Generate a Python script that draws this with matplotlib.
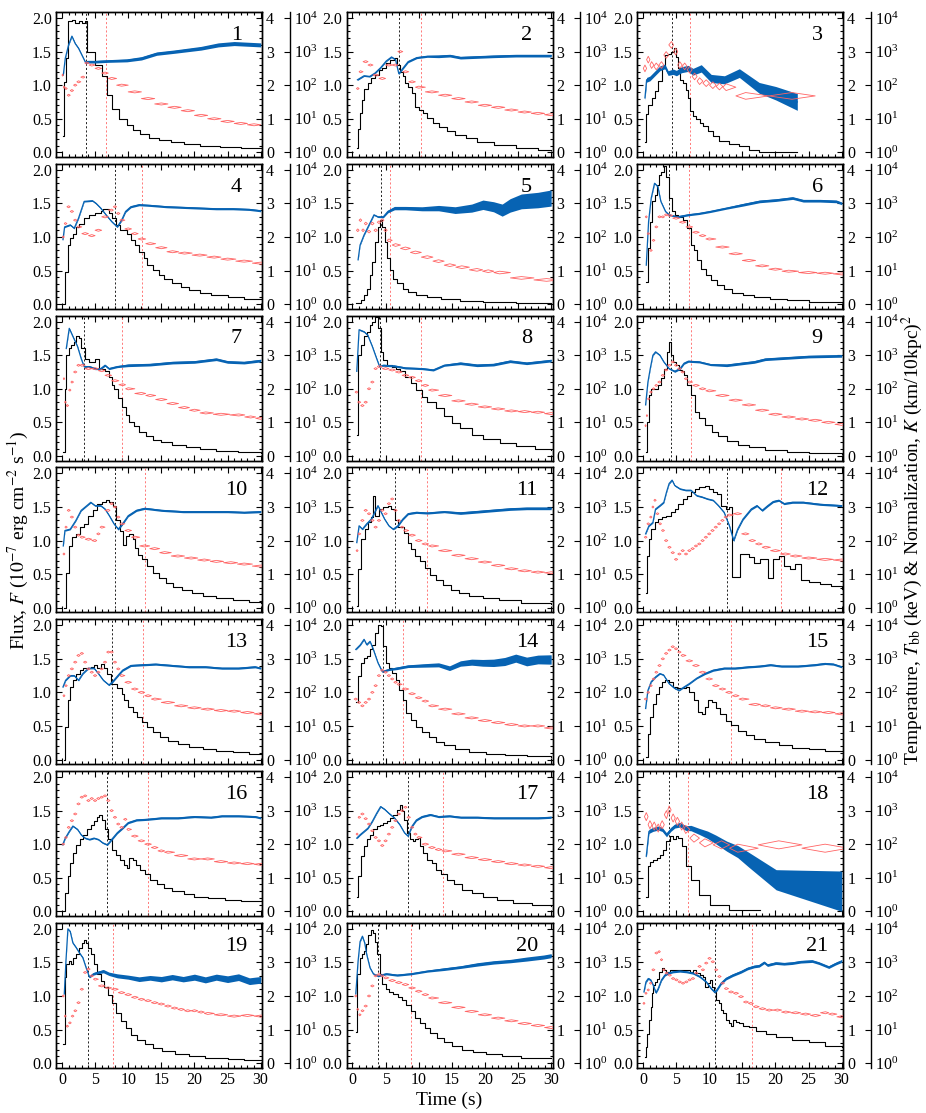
import matplotlib
matplotlib.use("Agg")
import numpy as np
import matplotlib.pyplot as plt
from matplotlib.ticker import MultipleLocator, NullLocator, FixedLocator
from matplotlib.collections import PolyCollection

plt.rcParams['font.family'] = 'serif'
plt.rcParams['font.serif'] = ['Liberation Serif', 'DejaVu Serif']
plt.rcParams['mathtext.fontset'] = 'stix'

# ---------------- data (flux in 1e-7 erg/cm2/s, T in keV, logK = log10 K) ----------------
p1_ft = [0.2, 0.35, 0.6, 0.95, 1.5, 2.0, 2.5, 3.0, 3.5, 3.75, 5.0, 6.1, 6.8, 7.5, 8.6, 9.8, 10.8, 11.8, 13.1, 14.6, 16.4, 18.4, 20.9, 23.9, 27.0, 30.0]
p1_f = [0.25, 1.05, 1.4, 1.95, 1.97, 1.93, 1.96, 1.92, 1.95, 1.5, 1.3, 1.13, 0.85, 0.65, 0.5, 0.4, 0.33, 0.28, 0.22, 0.19, 0.16, 0.13, 0.10, 0.08, 0.06, 0.06]
p1_Tt = [0.2, 0.5, 1.0, 1.5, 2.0, 2.5, 3.0, 3.6, 3.8, 5, 7, 9.8, 12, 14.3, 17, 21, 23.6, 26, 28, 30]
p1_T = [2.3, 2.8, 3.2, 3.46, 3.24, 3.1, 2.9, 2.66, 2.7, 2.7, 2.72, 2.74, 2.8, 2.94, 3.0, 3.1, 3.2, 3.24, 3.22, 3.2]
p1_Te = [0.02] * 8 + [0.04, 0.04, 0.04, 0.045, 0.05, 0.05, 0.05, 0.055, 0.06, 0.06, 0.06, 0.06]
p1_Kt = [0.1, 0.3, 0.6, 1.0, 1.5, 2.0, 2.5, 3.2, 3.7, 4.5, 5.5, 6.5, 7.5, 9, 11, 13, 15, 17, 19, 21, 23, 25, 27, 29]
p1_lK = [2.3, 1.94, 1.9, 1.7, 1.84, 2.0, 2.1, 2.24, 2.66, 2.6, 2.5, 2.36, 2.2, 2.0, 1.8, 1.6, 1.44, 1.34, 1.24, 1.1, 1.0, 0.92, 0.86, 0.82]
p1_lines = [3.7, 6.7]

p2_ft = [0.75, 0.9, 1.2, 1.5, 1.8, 2.3, 2.8, 3.4, 4.0, 4.5, 5.1, 5.7, 6.2, 6.75, 7.2, 7.6, 8.0, 8.4, 9.0, 9.5, 10.1, 10.7, 11.3, 12.2, 13.0, 14.25, 15.5, 17.2, 18.8, 21.3, 24.7, 28.0, 30.0]
p2_f = [0.06, 0.34, 0.58, 0.78, 0.95, 1.03, 1.1, 1.15, 1.23, 1.25, 1.33, 1.38, 1.4, 1.3, 1.2, 1.13, 1.03, 0.98, 0.88, 0.68, 0.63, 0.58, 0.51, 0.44, 0.38, 0.31, 0.26, 0.21, 0.16, 0.11, 0.06, 0.04, 0.03]
p2_Tt = [0.75, 1.75, 2.6, 3.4, 4.25, 5.1, 5.9, 6.5, 7.0, 7.6, 8.4, 9.7, 11.3, 13, 14.7, 16.3, 18.8, 21.3, 24.7, 30]
p2_T = [2.16, 2.28, 2.26, 2.36, 2.52, 2.72, 2.84, 2.76, 2.34, 2.5, 2.7, 2.82, 2.86, 2.86, 2.88, 2.82, 2.84, 2.86, 2.88, 2.88]
p2_Te = [0.02] * 9 + [0.03] * 4 + [0.04] * 7
p2_Kt = [0.8, 1.2, 2.0, 2.7, 3.5, 4.5, 5.5, 6.5, 7.2, 8, 9, 10, 12, 14, 16, 18, 20, 22, 24, 26, 28, 30]
p2_lK = [1.9, 2.4, 2.7, 2.6, 2.3, 2.2, 2.6, 2.6, 3.0, 2.4, 2.1, 1.94, 1.8, 1.7, 1.6, 1.5, 1.4, 1.34, 1.26, 1.2, 1.16, 1.12]
p2_lines = [7.0, 10.3]

p3_ft = [0.3, 0.45, 0.8, 1.3, 1.8, 2.3, 2.8, 3.3, 3.8, 4.3, 4.65, 4.95, 5.3, 5.65, 6.05, 6.45, 6.8, 7.15, 7.55, 8.05, 8.55, 9.05, 9.8, 10.55, 11.55, 13.05, 14.55, 16.05, 17.55, 20.55, 23.3]
p3_f = [0.15, 0.57, 0.71, 0.81, 0.91, 1.06, 1.25, 1.45, 1.47, 1.5, 1.55, 1.42, 1.25, 1.08, 1.03, 0.93, 0.81, 0.61, 0.54, 0.49, 0.44, 0.39, 0.32, 0.25, 0.17, 0.12, 0.1, 0.03, 0.0, 0.0, 0.0]
p3_Tt = [0.3, 0.55, 1.05, 1.55, 2.05, 2.55, 3.3, 3.8, 4.55, 5.05, 5.8, 6.8, 7.55, 8.8, 10.3, 12.3, 14.55, 17.55, 20.05, 23.3]
p3_T = [1.62, 2.16, 2.2, 2.3, 2.4, 2.5, 2.56, 2.36, 2.4, 2.36, 2.46, 2.5, 2.4, 2.5, 2.2, 2.16, 2.36, 1.92, 1.76, 1.5]
p3_Te = [0.07] * 8 + [0.08, 0.08, 0.09, 0.09, 0.1, 0.11, 0.12, 0.12, 0.13, 0.16, 0.2, 0.25]
p3_Kt = [0.3, 0.8, 1.3, 2.0, 2.8, 3.5, 4.3, 4.95, 5.55, 6.3, 7.05, 7.8, 8.55, 9.55, 10.55, 11.55, 12.55, 15.5, 22.5]
p3_lK = [2.5, 2.76, 2.6, 2.56, 2.6, 2.9, 3.2, 3.0, 2.6, 2.56, 2.46, 2.26, 2.12, 2.06, 2.0, 1.96, 1.94, 1.68, 1.68]
p3_lines = [4.45, 7.05]

p4_ft = [0.15, 0.4, 0.85, 1.25, 1.65, 2.1, 2.5, 3.35, 4.15, 5.0, 5.85, 6.25, 7.1, 7.5, 8.1, 8.75, 9.35, 9.85, 10.4, 11.0, 11.65, 12.35, 12.9, 13.75, 14.6, 15.4, 16.65, 17.9, 19.2, 20.8, 22.5, 25.0, 27.5, 30.0]
p4_f = [0.0, 0.48, 0.88, 0.98, 1.05, 1.15, 1.2, 1.28, 1.33, 1.35, 1.38, 1.42, 1.35, 1.28, 1.18, 1.1, 1.1, 1.05, 0.95, 0.88, 0.78, 0.68, 0.58, 0.51, 0.43, 0.38, 0.31, 0.26, 0.21, 0.17, 0.13, 0.11, 0.08, 0.07]
p4_Tt = [0.15, 0.4, 1.25, 1.85, 2.5, 3.35, 4.6, 5.15, 5.85, 6.65, 7.5, 8.35, 9.0, 9.6, 10.4, 11.65, 13.3, 15.8, 18.3, 20.8, 23.3, 25.8, 28.3, 30]
p4_T = [1.92, 2.3, 2.36, 2.26, 2.56, 3.06, 3.08, 3.0, 2.86, 2.66, 2.46, 2.3, 2.5, 2.76, 2.9, 2.96, 2.94, 2.9, 2.88, 2.86, 2.84, 2.84, 2.82, 2.78]
p4_Te = [0.02] * 12 + [0.03] * 12
p4_Kt = [0.2, 0.5, 1.0, 1.5, 2.0, 2.5, 3.5, 4.5, 5.5, 6.5, 7.5, 8.0, 8.5, 9.0, 10, 11, 12, 13.3, 15, 16.7, 18.5, 20.8, 23, 25, 27.5, 30]
p4_lK = [2.0, 2.4, 2.9, 2.76, 2.5, 2.3, 2.1, 2.04, 2.2, 2.6, 2.8, 2.9, 2.7, 2.5, 2.24, 2.1, 1.94, 1.8, 1.68, 1.56, 1.52, 1.46, 1.4, 1.34, 1.28, 1.22]
p4_lines = [8.0, 12.1]

p5_ft = [0.5, 1.35, 1.75, 2.15, 2.6, 3.0, 3.4, 3.85, 4.1, 4.4, 4.85, 5.25, 5.65, 6.1, 6.75, 7.6, 8.4, 9.65, 11.3, 13.4, 16.3, 19.7, 24.7, 30.0]
p5_f = [0.01, 0.06, 0.13, 0.23, 0.43, 0.63, 0.93, 1.15, 1.25, 1.15, 0.93, 0.68, 0.51, 0.38, 0.31, 0.23, 0.18, 0.13, 0.1, 0.07, 0.05, 0.035, 0.02, 0.01]
p5_Tt = [0.85, 1.15, 1.75, 2.6, 3.25, 3.85, 4.65, 5.35, 6.35, 8.0, 10.5, 13.0, 15.5, 18.0, 19.7, 21.3, 22.6, 23.8, 25.5, 28.0, 30.0]
p5_T = [1.32, 1.76, 2.06, 2.4, 2.66, 2.6, 2.6, 2.76, 2.86, 2.86, 2.84, 2.86, 2.8, 2.86, 2.96, 2.9, 2.8, 2.94, 3.06, 3.1, 3.16]
p5_Te = [0.02] * 6 + [0.03, 0.04, 0.05, 0.05, 0.06, 0.08, 0.1, 0.12, 0.14, 0.15, 0.18, 0.2, 0.22, 0.23, 0.24]
p5_Kt = [0.8, 1.2, 1.6, 2.0, 2.5, 3.0, 3.5, 4.0, 4.5, 5.0, 5.5, 6.5, 8.0, 9.5, 11.3, 13, 14.7, 16.5, 18.8, 20.5, 22.2, 25.5, 29.3]
p5_lK = [2.2, 2.5, 2.2, 2.4, 2.16, 2.4, 2.2, 2.44, 2.5, 2.2, 1.9, 1.76, 1.66, 1.54, 1.4, 1.28, 1.16, 1.1, 1.02, 0.98, 0.94, 0.78, 0.72]
p5_lines = [4.25, 5.65]

p6_ft = [0.5, 0.75, 1.05, 1.4, 1.75, 2.05, 2.4, 2.7, 3.15, 3.55, 3.95, 4.4, 4.8, 5.35, 6.0, 6.7, 7.25, 7.7, 8.1, 8.75, 9.5, 10.2, 11.15, 12.2, 13.5, 15.1, 16.8, 19.25, 21.7, 25.0, 30.0]
p6_f = [0.33, 0.83, 1.23, 1.53, 1.63, 1.78, 1.93, 1.97, 2.05, 1.9, 1.58, 1.38, 1.33, 1.3, 1.25, 1.13, 0.88, 0.8, 0.66, 0.53, 0.43, 0.36, 0.28, 0.22, 0.17, 0.13, 0.11, 0.075, 0.055, 0.035, 0.025]
p6_Tt = [0.5, 0.85, 1.25, 1.75, 2.25, 2.7, 3.4, 3.95, 5.2, 6.85, 8.5, 10.2, 12.65, 15.1, 17.6, 20.1, 22.6, 24.2, 26.7, 29.2, 30]
p6_T = [1.16, 2.46, 3.16, 3.6, 3.5, 3.06, 2.76, 2.66, 2.6, 2.66, 2.7, 2.76, 2.86, 2.96, 3.06, 3.1, 3.16, 3.08, 3.08, 3.06, 3.0]
p6_Te = [0.02] * 8 + [0.03] * 5 + [0.04] * 8
p6_Kt = [0.5, 0.8, 1.2, 1.6, 2.0, 2.5, 3.0, 3.5, 4.0, 5.0, 6.0, 7.0, 8.0, 9.0, 10.0, 12.0, 14.0, 16.0, 18.0, 20.0, 22.0, 25.0, 27.5, 30.0]
p6_lK = [2.6, 2.1, 1.6, 1.9, 2.3, 2.6, 2.6, 2.66, 2.64, 2.56, 2.44, 2.3, 2.14, 2.04, 1.94, 1.7, 1.5, 1.3, 1.14, 1.04, 0.98, 0.94, 0.92, 0.9]
p6_lines = [3.95, 7.0]

p7_ft = [0.15, 0.4, 0.65, 1.0, 1.35, 1.85, 2.15, 2.5, 2.9, 3.5, 4.15, 5.0, 5.6, 6.0, 6.5, 7.1, 7.5, 7.9, 8.5, 9.0, 9.6, 10.15, 10.85, 11.65, 12.65, 13.75, 15.0, 16.65, 18.75, 20.8, 23.3, 26.65, 30.0]
p7_f = [0.06, 1.0, 1.5, 1.6, 1.65, 1.7, 1.78, 1.75, 1.6, 1.45, 1.4, 1.44, 1.3, 1.3, 1.26, 1.18, 1.06, 1.0, 0.86, 0.73, 0.61, 0.51, 0.44, 0.36, 0.3, 0.24, 0.2, 0.16, 0.13, 0.1, 0.08, 0.065, 0.05]
p7_Tt = [0.65, 1.1, 1.65, 2.35, 2.9, 3.35, 4.15, 5.0, 5.85, 6.5, 7.1, 8.35, 10, 13.3, 16.7, 20, 23.3, 25, 27.5, 30]
p7_T = [3.2, 3.8, 3.56, 3.26, 2.9, 2.66, 2.66, 2.6, 2.6, 2.7, 2.6, 2.66, 2.7, 2.72, 2.78, 2.8, 2.88, 2.8, 2.78, 2.84]
p7_Te = [0.02] * 6 + [0.03] * 6 + [0.04] * 8
p7_Kt = [0.3, 0.5, 0.8, 1.2, 1.5, 2.0, 2.5, 3.0, 4.0, 5.0, 6.0, 7.0, 8.0, 9.2, 10, 12, 13.3, 15, 16.7, 18.5, 20, 21.7, 24, 26.7, 28.5, 30]
p7_lK = [2.3, 1.6, 1.5, 1.96, 2.2, 2.5, 2.7, 2.7, 2.6, 2.6, 2.54, 2.4, 2.24, 2.12, 2.0, 1.86, 1.8, 1.68, 1.56, 1.44, 1.36, 1.28, 1.24, 1.22, 1.16, 1.12]
p7_lines = [3.35, 9.0]

p8_ft = [0.65, 0.9, 1.35, 1.75, 2.15, 2.6, 3.0, 3.4, 3.85, 4.25, 4.65, 5.25, 5.9, 6.5, 7.15, 8.0, 8.85, 9.65, 10.5, 11.3, 12.6, 13.85, 15.1, 16.3, 18.0, 19.7, 22.2, 24.7, 27.6, 30.0]
p8_f = [0.31, 1.5, 1.65, 1.78, 1.85, 1.95, 2.0, 2.07, 1.9, 1.55, 1.43, 1.35, 1.33, 1.3, 1.26, 1.18, 1.08, 0.98, 0.88, 0.81, 0.71, 0.59, 0.49, 0.41, 0.31, 0.25, 0.19, 0.15, 0.11, 0.09]
p8_Tt = [0.65, 1.0, 1.75, 2.3, 3.0, 3.65, 4.1, 4.65, 6.3, 8.0, 10.5, 12.2, 13.85, 16.3, 18.8, 21.3, 23.8, 26.3, 30]
p8_T = [2.52, 3.76, 3.7, 3.6, 3.26, 2.9, 2.66, 2.7, 2.68, 2.62, 2.6, 2.56, 2.7, 2.76, 2.7, 2.72, 2.82, 2.76, 2.84]
p8_Te = [0.02] * 7 + [0.03] * 6 + [0.04] * 6
p8_Kt = [0.6, 1.0, 1.5, 2.0, 2.5, 3.0, 3.5, 4.0, 5.0, 6.0, 7.0, 8.0, 9.0, 10.0, 11.0, 12.0, 14.0, 16.0, 18.0, 20.0, 22.0, 24.0, 26.0, 28.0, 30.0]
p8_lK = [1.9, 1.6, 1.5, 1.6, 2.0, 2.2, 2.6, 2.66, 2.6, 2.56, 2.5, 2.4, 2.34, 2.24, 2.1, 1.96, 1.8, 1.64, 1.54, 1.46, 1.4, 1.34, 1.32, 1.3, 1.26]
p8_lines = [4.1, 10.3]

p9_ft = [0.4, 0.65, 0.9, 1.25, 1.75, 2.25, 2.7, 3.2, 3.65, 3.95, 4.3, 4.6, 5.05, 5.45, 5.85, 6.2, 6.7, 7.25, 7.85, 8.5, 9.35, 10.35, 11.4, 12.65, 14.3, 15.95, 18.4, 21.75, 25.0, 30.0]
p9_f = [0.06, 0.51, 0.91, 1.0, 1.0, 1.06, 1.16, 1.3, 1.55, 1.7, 1.5, 1.4, 1.35, 1.28, 1.26, 1.21, 1.06, 0.91, 0.66, 0.56, 0.46, 0.36, 0.29, 0.22, 0.16, 0.13, 0.09, 0.065, 0.05, 0.035]
p9_Tt = [0.4, 0.75, 1.1, 1.5, 1.9, 2.55, 3.15, 3.95, 4.8, 5.6, 6.2, 6.85, 8.5, 10.2, 12.65, 15.1, 16.8, 18.45, 21.75, 25, 30]
p9_T = [1.52, 2.2, 2.6, 3.0, 3.1, 3.0, 2.8, 2.6, 2.52, 2.6, 2.76, 2.82, 2.8, 2.72, 2.7, 2.76, 2.8, 2.88, 2.92, 2.96, 2.98]
p9_Te = [0.02] * 8 + [0.03] * 6 + [0.04] * 7
p9_Kt = [0.4, 0.6, 0.8, 1.2, 1.6, 2.0, 2.5, 3.0, 3.5, 4.0, 4.5, 5.0, 5.5, 6.0, 6.5, 7.0, 8.0, 9.0, 10.0, 12.0, 14.0, 16.0, 18.0, 20.0, 22.0, 24.0, 26.0, 28.0, 30.0]
p9_lK = [0.9, 1.2, 1.7, 1.9, 2.0, 2.1, 2.2, 2.4, 2.56, 2.7, 2.8, 2.7, 2.6, 2.5, 2.3, 2.2, 2.1, 2.0, 1.94, 1.8, 1.66, 1.52, 1.36, 1.24, 1.16, 1.1, 1.06, 1.0, 0.94]
p9_lines = [4.2, 7.3]

p10_ft = [0.25, 0.6, 1.0, 1.5, 2.1, 2.65, 3.35, 4.0, 4.65, 5.35, 6.0, 6.65, 7.15, 7.65, 8.1, 8.75, 9.15, 9.6, 10.15, 10.65, 11.0, 11.5, 12.1, 12.9, 13.75, 14.6, 15.65, 16.8, 18.15, 19.6, 21.25, 23.3, 25.8, 28.3, 30.0]
p10_f = [0.0, 0.52, 0.92, 1.05, 1.1, 1.2, 1.25, 1.37, 1.45, 1.55, 1.58, 1.6, 1.57, 1.52, 1.3, 1.15, 0.94, 1.07, 1.1, 1.02, 0.89, 0.79, 0.72, 0.62, 0.52, 0.44, 0.37, 0.31, 0.26, 0.22, 0.18, 0.14, 0.12, 0.09, 0.075]
p10_Tt = [0.2, 0.45, 1.25, 2.1, 2.9, 3.75, 4.35, 5.0, 5.85, 6.5, 7.15, 7.85, 8.5, 9.15, 10.0, 11.25, 12.5, 15, 18.3, 21.7, 25, 27.5, 30]
p10_T = [1.84, 2.3, 2.34, 2.6, 2.9, 3.04, 3.14, 3.04, 3.04, 2.94, 2.74, 2.5, 2.34, 2.5, 2.74, 2.9, 2.96, 2.9, 2.86, 2.86, 2.86, 2.84, 2.86]
p10_Te = [0.02] * 12 + [0.03] * 11
p10_Kt = [0.3, 0.6, 1.0, 1.5, 2.0, 2.5, 3.0, 4.0, 5.0, 5.5, 6.0, 7.0, 7.5, 8.0, 8.5, 9.0, 10.0, 11.0, 12.5, 14.0, 15.5, 17.5, 19.5, 21.5, 23.3, 25.5, 27.5, 30.0]
p10_lK = [1.6, 2.4, 2.9, 2.7, 2.4, 2.16, 2.1, 2.04, 2.0, 2.2, 2.4, 2.9, 3.1, 3.0, 2.7, 2.5, 2.3, 2.1, 1.84, 1.76, 1.64, 1.54, 1.48, 1.42, 1.38, 1.34, 1.3, 1.24]
p10_lines = [8.0, 12.5]

p11_ft = [0.65, 0.9, 1.35, 1.85, 2.35, 2.85, 3.15, 3.4, 4.0, 4.65, 5.35, 5.85, 6.35, 6.85, 7.35, 7.85, 8.35, 8.85, 9.5, 10.15, 10.9, 11.75, 12.6, 13.65, 14.85, 16.15, 17.6, 19.65, 22.15, 25.5, 30.0]
p11_f = [0.02, 0.57, 1.02, 1.17, 1.27, 1.35, 1.67, 1.37, 1.47, 1.5, 1.52, 1.47, 1.3, 1.2, 1.2, 1.12, 0.97, 0.87, 0.77, 0.69, 0.59, 0.49, 0.42, 0.34, 0.27, 0.22, 0.18, 0.14, 0.11, 0.075, 0.055]
p11_Tt = [0.65, 1.0, 1.5, 2.15, 2.85, 3.35, 3.85, 4.35, 4.85, 5.5, 6.15, 6.85, 7.6, 8.4, 9.65, 11.3, 13.85, 16.3, 18.85, 21.3, 23.8, 26.3, 30]
p11_T = [1.94, 2.44, 2.34, 2.5, 2.64, 2.84, 3.04, 2.84, 2.64, 2.44, 2.34, 2.44, 2.64, 2.8, 2.84, 2.82, 2.86, 2.82, 2.86, 2.9, 2.94, 2.96, 2.96]
p11_Te = [0.02] * 11 + [0.03] * 6 + [0.04] * 6
p11_Kt = [0.7, 1.0, 1.5, 2.0, 2.5, 3.0, 3.5, 4.0, 4.5, 5.0, 5.5, 6.0, 6.5, 7.0, 7.5, 8.0, 9.0, 10.0, 11.0, 12.0, 14.0, 16.0, 18.0, 20.0, 22.0, 24.0, 26.0, 28.0, 30.0]
p11_lK = [1.7, 2.2, 2.6, 2.9, 2.8, 2.6, 2.4, 2.6, 2.9, 2.8, 3.1, 3.24, 2.9, 2.6, 2.4, 2.3, 2.16, 2.0, 1.9, 1.84, 1.7, 1.56, 1.46, 1.36, 1.26, 1.16, 1.1, 1.06, 1.04]
p11_lines = [6.35, 11.2]

p12_ft = [0.4, 0.65, 0.9, 1.25, 1.75, 2.3, 2.9, 3.55, 4.2, 4.8, 5.35, 6.05, 6.7, 7.25, 7.85, 8.5, 9.35, 10.0, 10.6, 11.15, 11.8, 12.5, 13.05, 13.5, 14.7, 15.95, 16.8, 17.6, 18.85, 19.65, 20.5, 21.3, 22.15, 23.0, 23.8, 25.0, 26.7, 28.35, 30.0]
p12_f = [0.22, 0.77, 1.02, 1.17, 1.27, 1.32, 1.35, 1.37, 1.42, 1.47, 1.55, 1.62, 1.67, 1.72, 1.77, 1.8, 1.82, 1.77, 1.72, 1.7, 1.52, 1.47, 1.5, 0.45, 0.8, 0.75, 0.67, 0.72, 0.44, 0.72, 0.77, 0.62, 0.58, 0.65, 0.42, 0.39, 0.36, 0.32, 0.28]
p12_Tt = [0.4, 0.9, 1.5, 1.9, 2.55, 3.15, 3.55, 3.95, 4.4, 4.8, 5.6, 6.45, 7.25, 8.1, 8.9, 9.75, 10.6, 11.4, 12.25, 13.05, 13.7, 14.3, 15.1, 16.35, 17.2, 18.0, 18.85, 19.65, 20.5, 21.3, 22.55, 24.2, 26.7, 30.0]
p12_T = [2.2, 2.44, 2.54, 2.94, 3.04, 3.14, 3.44, 3.7, 3.8, 3.64, 3.54, 3.5, 3.5, 3.34, 3.3, 3.24, 3.2, 3.04, 2.84, 2.44, 2.0, 2.34, 2.64, 2.94, 3.04, 2.9, 3.04, 3.16, 3.2, 3.1, 3.14, 3.14, 3.08, 3.04]
p12_Te = [0.02] * 20 + [0.03] * 14
p12_Kt = [0.4, 0.8, 1.2, 1.5, 1.8, 2.2, 2.6, 3.0, 3.5, 4.0, 4.5, 5.0, 5.5, 6.0, 6.5, 7.0, 7.5, 8.0, 8.5, 9.0, 9.5, 10.0, 10.5, 11.0, 11.5, 12.0, 12.5, 13.0, 14.3, 15.5, 16.5, 17.5, 18.5, 20.0, 21.5, 23.0, 25.0, 27.5, 30.0]
p12_lK = [2.1, 2.5, 2.7, 3.0, 3.2, 2.8, 2.5, 2.3, 2.0, 1.8, 1.64, 1.44, 1.6, 1.7, 1.6, 1.7, 1.76, 1.84, 1.9, 2.0, 2.1, 2.2, 2.3, 2.4, 2.5, 2.6, 2.7, 2.76, 2.8, 2.2, 2.0, 1.9, 1.8, 1.7, 1.6, 1.54, 1.48, 1.44, 1.42]
p12_lines = [12.65, 20.9]

p13_ft = [0.25, 0.5, 0.85, 1.25, 1.65, 2.15, 2.65, 3.15, 3.75, 4.35, 4.85, 5.35, 5.85, 6.35, 6.85, 7.35, 7.9, 8.35, 9.0, 9.4, 10.0, 10.65, 11.35, 12.1, 12.9, 13.75, 14.85, 16.0, 17.5, 19.15, 21.25, 23.3, 25.8, 28.3, 30.0]
p13_f = [0.0, 0.48, 0.88, 1.08, 1.18, 1.28, 1.33, 1.36, 1.36, 1.38, 1.41, 1.36, 1.43, 1.36, 1.28, 1.13, 1.13, 1.06, 0.98, 0.88, 0.78, 0.71, 0.63, 0.56, 0.48, 0.41, 0.34, 0.28, 0.23, 0.19, 0.16, 0.13, 0.11, 0.085, 0.075]
p13_Tt = [0.15, 0.55, 1.25, 1.85, 2.5, 3.15, 4.0, 4.85, 5.5, 6.25, 7.1, 7.65, 8.35, 9.15, 10.4, 12.1, 14.15, 16.65, 19.15, 21.65, 24.15, 26.65, 29.15, 30]
p13_T = [2.16, 2.36, 2.5, 2.5, 2.36, 2.56, 2.72, 2.72, 2.56, 2.36, 2.22, 2.32, 2.48, 2.66, 2.8, 2.82, 2.84, 2.8, 2.76, 2.76, 2.72, 2.72, 2.76, 2.72]
p13_Te = [0.02] * 11 + [0.03] * 13
p13_Kt = [0.3, 0.6, 1.0, 1.5, 2.0, 2.5, 3.0, 3.5, 4.0, 4.5, 5.0, 5.5, 6.0, 6.5, 7.0, 7.5, 8.0, 8.5, 9.0, 10.0, 11.0, 12.0, 13.0, 14.0, 16.0, 18.0, 20.0, 22.0, 24.0, 26.0, 28.0, 30.0]
p13_lK = [1.9, 2.2, 2.5, 2.7, 2.9, 3.1, 3.16, 2.9, 2.7, 2.6, 2.5, 2.6, 2.7, 2.9, 3.2, 3.2, 2.9, 2.7, 2.5, 2.3, 2.1, 2.0, 1.9, 1.8, 1.7, 1.6, 1.54, 1.5, 1.46, 1.44, 1.4, 1.36]
p13_lines = [7.5, 12.3]

p14_ft = [0.5, 0.9, 1.35, 1.75, 2.15, 2.65, 3.0, 3.4, 3.85, 4.25, 4.65, 5.1, 5.5, 6.0, 6.5, 7.0, 7.6, 8.15, 8.85, 9.65, 10.5, 11.5, 12.6, 13.85, 15.5, 17.6, 20.1, 23.0, 26.3, 30.0]
p14_f = [0.86, 1.24, 1.44, 1.51, 1.54, 1.64, 1.71, 1.89, 2.01, 1.99, 1.69, 1.44, 1.36, 1.29, 1.19, 1.04, 0.89, 0.69, 0.59, 0.49, 0.41, 0.34, 0.26, 0.21, 0.16, 0.11, 0.085, 0.06, 0.045, 0.035]
p14_Tt = [0.5, 1.2, 1.75, 2.15, 2.65, 3.15, 3.85, 4.5, 5.5, 6.75, 8.4, 10.5, 13.0, 14.65, 16.3, 18.0, 19.65, 21.3, 23.0, 24.65, 26.3, 28.0, 30.0]
p14_T = [3.28, 3.42, 3.58, 3.42, 3.52, 3.28, 2.88, 2.62, 2.68, 2.72, 2.78, 2.8, 2.82, 2.72, 2.86, 2.9, 2.88, 2.88, 2.92, 3.02, 2.92, 2.98, 2.98]
p14_Te = [0.02] * 7 + [0.03, 0.03, 0.04, 0.04, 0.05, 0.06, 0.07, 0.08, 0.09, 0.1, 0.11, 0.12, 0.12, 0.13, 0.13, 0.14]
p14_Kt = [0.5, 1.0, 1.5, 2.0, 2.5, 3.0, 3.5, 4.0, 4.5, 5.0, 5.5, 6.0, 6.5, 7.0, 8.0, 9.0, 10.0, 11.0, 12.0, 14.0, 16.0, 18.0, 20.0, 22.0, 24.0, 26.0, 28.0, 30.0]
p14_lK = [1.8, 1.7, 1.6, 1.7, 1.8, 2.0, 2.2, 2.5, 2.66, 2.6, 2.5, 2.4, 2.3, 2.24, 2.1, 1.96, 1.84, 1.74, 1.6, 1.5, 1.36, 1.24, 1.16, 1.1, 1.04, 1.0, 1.0, 0.94]
p14_lines = [4.6, 7.6]

p15_ft = [0.4, 0.75, 1.05, 1.5, 1.9, 2.4, 2.9, 3.4, 3.95, 4.55, 5.2, 5.85, 6.45, 7.0, 7.7, 8.25, 8.85, 9.35, 9.85, 10.35, 11.0, 11.65, 12.5, 13.3, 14.3, 15.55, 16.8, 18.45, 20.5, 22.55, 25.0, 27.5, 30.0]
p15_f = [0.03, 0.38, 0.63, 0.83, 0.98, 1.08, 1.16, 1.18, 1.16, 1.08, 1.06, 1.06, 1.08, 1.01, 0.88, 0.71, 0.68, 0.78, 0.88, 0.86, 0.76, 0.68, 0.58, 0.51, 0.43, 0.36, 0.31, 0.26, 0.21, 0.17, 0.15, 0.13, 0.125]
p15_Tt = [0.4, 0.75, 1.25, 1.9, 2.55, 3.1, 3.95, 4.8, 5.45, 6.2, 7.0, 8.1, 9.35, 10.6, 12.25, 13.9, 16.0, 17.6, 19.25, 20.9, 23.4, 25.9, 27.5, 28.75, 30.0]
p15_T = [1.52, 2.06, 2.32, 2.46, 2.56, 2.52, 2.26, 2.12, 2.06, 2.16, 2.26, 2.42, 2.56, 2.66, 2.72, 2.72, 2.76, 2.78, 2.82, 2.78, 2.78, 2.82, 2.86, 2.84, 2.76]
p15_Te = [0.02] * 12 + [0.03] * 13
p15_Kt = [0.4, 0.8, 1.2, 1.6, 2.0, 2.5, 3.0, 3.5, 4.0, 4.5, 5.0, 5.5, 6.0, 7.0, 8.0, 9.0, 10.0, 11.0, 12.0, 13.0, 14.0, 15.0, 17.0, 18.5, 20.0, 22.0, 24.0, 26.0, 28.0, 30.0]
p15_lK = [1.8, 2.0, 2.2, 2.4, 2.6, 2.8, 3.0, 3.16, 3.26, 3.36, 3.3, 3.2, 3.1, 2.94, 2.8, 2.6, 2.4, 2.2, 2.1, 2.0, 1.9, 1.8, 1.64, 1.6, 1.54, 1.5, 1.44, 1.42, 1.4, 1.36]
p15_lines = [5.35, 13.3]

p16_ft = [0.15, 0.5, 0.85, 1.25, 1.65, 2.15, 2.65, 3.15, 3.75, 4.35, 4.85, 5.35, 5.65, 6.0, 6.5, 7.0, 7.5, 8.15, 8.75, 9.35, 9.75, 10.15, 10.65, 11.15, 11.85, 12.5, 13.35, 14.35, 15.4, 16.65, 18.35, 20.0, 22.1, 24.6, 27.1, 30.0]
p16_f = [0.0, 0.27, 0.52, 0.72, 0.87, 0.99, 1.07, 1.14, 1.22, 1.29, 1.34, 1.41, 1.44, 1.36, 1.22, 1.07, 0.92, 0.84, 0.77, 0.69, 0.65, 0.79, 0.77, 0.69, 0.62, 0.55, 0.47, 0.4, 0.35, 0.3, 0.26, 0.22, 0.2, 0.17, 0.16, 0.15]
p16_Tt = [0.1, 0.5, 1.1, 1.65, 2.35, 2.9, 3.5, 4.15, 4.85, 5.5, 6.15, 6.85, 7.5, 8.35, 9.15, 10.0, 11.25, 12.9, 15.0, 17.5, 20.0, 22.5, 24.15, 26.65, 29.15, 30.0]
p16_T = [1.98, 2.18, 2.38, 2.54, 2.44, 2.28, 2.18, 2.14, 2.18, 2.14, 2.04, 1.98, 2.14, 2.34, 2.48, 2.64, 2.72, 2.74, 2.78, 2.78, 2.82, 2.8, 2.84, 2.84, 2.82, 2.78]
p16_Te = [0.02] * 12 + [0.03] * 14
p16_Kt = [0.2, 0.6, 1.0, 1.5, 2.0, 2.5, 3.0, 3.5, 4.0, 4.5, 5.0, 5.5, 6.0, 6.5, 7.0, 7.5, 8.0, 8.5, 9.0, 9.6, 10.0, 11.0, 12.0, 13.0, 14.0, 15.0, 16.0, 18.0, 20.0, 22.0, 24.0, 26.0, 28.0, 30.0]
p16_lK = [2.0, 2.2, 2.5, 2.7, 2.9, 3.2, 3.4, 3.44, 3.3, 3.36, 3.3, 3.36, 3.4, 3.44, 3.3, 3.0, 2.8, 2.6, 2.5, 2.74, 2.44, 2.24, 2.1, 2.0, 1.9, 1.8, 1.76, 1.66, 1.56, 1.56, 1.48, 1.44, 1.42, 1.4]
p16_lines = [6.75, 13.0]

p17_ft = [0.65, 0.9, 1.35, 1.75, 2.15, 2.65, 3.15, 3.65, 4.15, 4.65, 5.15, 5.65, 6.15, 6.65, 7.15, 7.5, 7.85, 8.25, 8.65, 9.1, 9.5, 9.85, 10.15, 10.65, 11.3, 12.0, 12.65, 13.4, 14.25, 15.35, 16.5, 18.0, 19.65, 21.75, 24.25, 27.15, 30.0]
p17_f = [0.22, 0.52, 0.82, 0.97, 1.07, 1.14, 1.22, 1.27, 1.29, 1.32, 1.34, 1.39, 1.44, 1.51, 1.59, 1.49, 1.36, 1.17, 1.07, 1.04, 1.07, 1.09, 0.97, 0.87, 0.77, 0.72, 0.62, 0.55, 0.47, 0.4, 0.32, 0.27, 0.21, 0.17, 0.13, 0.1, 0.075]
p17_Tt = [0.65, 1.15, 1.75, 2.35, 3.0, 3.65, 4.25, 4.85, 5.5, 6.35, 7.15, 7.85, 8.4, 9.0, 9.65, 10.5, 11.75, 13.0, 14.65, 16.35, 18.85, 21.35, 24.65, 28.0, 30.0]
p17_T = [2.18, 2.28, 2.38, 2.48, 2.68, 2.92, 3.12, 3.04, 2.92, 2.78, 2.58, 2.34, 2.24, 2.54, 2.72, 2.82, 2.88, 2.82, 2.84, 2.8, 2.8, 2.78, 2.78, 2.78, 2.8]
p17_Te = [0.02] * 13 + [0.03] * 12
p17_Kt = [0.7, 1.0, 1.5, 2.0, 2.5, 3.0, 3.5, 4.0, 4.5, 5.0, 5.5, 6.0, 6.5, 7.0, 7.5, 8.0, 8.5, 9.0, 9.5, 10.0, 11.0, 12.0, 13.0, 14.0, 16.0, 18.0, 20.0, 22.0, 24.0, 26.0, 28.0, 30.0]
p17_lK = [2.3, 2.8, 2.9, 2.76, 2.6, 2.4, 2.2, 2.1, 1.96, 2.1, 2.3, 2.5, 2.7, 2.9, 3.0, 3.1, 2.8, 2.5, 2.3, 2.2, 2.0, 1.9, 1.84, 1.8, 1.7, 1.6, 1.54, 1.48, 1.42, 1.38, 1.34, 1.3]
p17_lines = [8.4, 13.65]

p18_ft = [0.5, 0.75, 1.05, 1.55, 2.05, 2.55, 3.05, 3.55, 4.05, 4.55, 4.95, 5.35, 5.85, 6.45, 7.25, 8.5, 10.15, 13.05, 17.6]
p18_f = [0.22, 0.67, 0.74, 0.77, 0.79, 0.84, 0.92, 1.04, 1.12, 1.07, 1.12, 1.09, 0.97, 0.67, 0.47, 0.25, 0.1, 0.025, 0.025]
p18_Tt = [0.5, 0.9, 1.5, 2.3, 2.9, 3.55, 4.2, 4.8, 5.6, 6.45, 7.25, 8.5, 9.75, 11.0, 12.65, 14.3, 15.95, 20.1, 30.0]
p18_T = [1.64, 2.38, 2.44, 2.48, 2.44, 2.28, 2.44, 2.54, 2.58, 2.48, 2.48, 2.38, 2.28, 2.14, 1.94, 1.78, 1.54, 0.94, 0.6]
p18_Te = [0.06, 0.06, 0.06, 0.06, 0.06, 0.06, 0.06, 0.06, 0.07, 0.07, 0.08, 0.09, 0.11, 0.13, 0.15, 0.18, 0.22, 0.3, 0.6]
p18_Kt = [0.5, 1.05, 1.7, 2.3, 2.9, 3.55, 3.95, 4.55, 5.2, 5.85, 6.45, 7.7, 9.35, 11.85, 14.3, 20.5, 27.5]
p18_lK = [2.82, 2.58, 2.54, 2.48, 2.58, 2.88, 3.02, 2.78, 2.68, 2.54, 2.44, 2.18, 2.04, 1.98, 1.88, 1.98, 1.88]
p18_lines = [3.95, 6.85]

p19_ft = [0.15, 0.4, 0.65, 1.0, 1.35, 1.65, 2.1, 2.5, 3.0, 3.35, 3.65, 4.0, 4.4, 4.85, 5.35, 5.85, 6.35, 6.9, 7.5, 8.15, 8.85, 9.6, 10.4, 11.35, 12.5, 13.75, 15.15, 17.1, 19.15, 21.65, 25.0, 27.5, 30.0]
p19_f = [0.28, 1.28, 1.47, 1.52, 1.47, 1.57, 1.62, 1.72, 1.79, 1.84, 1.79, 1.72, 1.62, 1.47, 1.33, 1.23, 1.13, 1.01, 0.89, 0.74, 0.62, 0.52, 0.42, 0.35, 0.28, 0.23, 0.18, 0.14, 0.11, 0.08, 0.06, 0.045, 0.045]
p19_Tt = [0.35, 0.6, 0.9, 1.25, 1.65, 2.15, 2.65, 3.15, 3.65, 4.15, 4.75, 5.4, 6.25, 7.1, 8.35, 10.0, 11.65, 13.3, 15.0, 16.65, 18.3, 20.0, 21.65, 23.3, 25.0, 26.65, 28.3, 30.0]
p19_T = [2.06, 3.04, 4.0, 3.92, 3.58, 3.44, 3.28, 3.14, 2.84, 2.56, 2.66, 2.7, 2.74, 2.66, 2.6, 2.56, 2.5, 2.54, 2.5, 2.56, 2.5, 2.56, 2.48, 2.56, 2.5, 2.56, 2.44, 2.48]
p19_Te = [0.02] * 10 + [0.04, 0.04, 0.05, 0.05, 0.06, 0.06, 0.07, 0.07, 0.08, 0.08, 0.08, 0.09, 0.09, 0.09, 0.1, 0.1, 0.1, 0.1]
p19_Kt = [0.2, 0.5, 0.8, 1.2, 1.6, 2.0, 2.5, 3.0, 3.5, 4.0, 4.5, 5.0, 6.0, 7.0, 8.0, 9.0, 10.0, 11.0, 12.0, 13.0, 14.0, 15.0, 16.0, 17.0, 18.0, 19.0, 20.0, 21.0, 22.0, 24.0, 26.0, 28.0, 30.0]
p19_lK = [2.0, 1.4, 1.1, 1.2, 1.4, 1.56, 1.8, 2.2, 2.7, 2.8, 2.6, 2.5, 2.3, 2.24, 2.2, 2.1, 2.04, 1.96, 1.9, 1.86, 1.8, 1.76, 1.7, 1.64, 1.6, 1.56, 1.56, 1.52, 1.48, 1.44, 1.4, 1.42, 1.4]
p19_lines = [4.0, 7.65]

p20_ft = [0.5, 0.75, 1.1, 1.4, 1.75, 2.1, 2.4, 2.75, 3.1, 3.4, 3.75, 4.1, 4.5, 5.0, 5.5, 6.15, 6.85, 7.5, 8.15, 8.85, 9.5, 10.15, 10.9, 11.75, 12.75, 13.85, 15.1, 16.5, 18.15, 20.1, 22.6, 25.5, 30.0]
p20_f = [0.47, 1.33, 1.57, 1.62, 1.67, 1.77, 1.91, 1.99, 1.94, 1.81, 1.62, 1.33, 1.18, 1.11, 1.06, 1.03, 0.99, 0.94, 0.86, 0.77, 0.67, 0.6, 0.52, 0.45, 0.38, 0.31, 0.25, 0.2, 0.17, 0.13, 0.11, 0.08, 0.07]
p20_Tt = [0.5, 0.85, 1.15, 1.5, 1.85, 2.15, 2.65, 3.15, 3.85, 5.1, 6.75, 8.85, 11.3, 13.85, 16.3, 18.85, 21.3, 23.85, 26.3, 28.85, 30.0]
p20_T = [2.06, 3.04, 3.62, 3.78, 3.58, 3.24, 2.84, 2.66, 2.6, 2.66, 2.62, 2.66, 2.74, 2.8, 2.86, 2.94, 3.0, 3.04, 3.1, 3.16, 3.2]
p20_Te = [0.02] * 8 + [0.03] * 5 + [0.04, 0.04, 0.05, 0.05, 0.05, 0.06, 0.06, 0.06]
p20_Kt = [0.5, 0.8, 1.1, 1.5, 2.0, 2.5, 3.0, 3.5, 4.0, 4.5, 5.0, 6.0, 7.0, 8.0, 9.0, 10.0, 11.0, 12.0, 14.0, 16.0, 18.0, 20.0, 22.0, 24.0, 26.0, 28.0, 30.0]
p20_lK = [2.0, 1.6, 1.44, 1.56, 1.7, 2.0, 2.3, 2.6, 2.64, 2.6, 2.54, 2.46, 2.4, 2.34, 2.24, 2.14, 2.04, 1.94, 1.8, 1.66, 1.54, 1.44, 1.34, 1.26, 1.18, 1.12, 1.06]
p20_lines = [3.85, 8.9]

p21_ft = [0.3, 0.45, 0.65, 0.95, 1.15, 1.35, 1.55, 1.8, 2.15, 2.45, 2.8, 3.15, 3.55, 4.05, 4.55, 5.05, 5.55, 6.05, 6.55, 7.05, 7.55, 8.05, 8.55, 9.05, 9.4, 9.8, 10.15, 10.45, 10.8, 11.05, 11.45, 11.8, 12.15, 12.55, 12.95, 13.3, 13.65, 14.05, 14.55, 15.05, 16.05, 17.05, 18.55, 20.05, 22.55, 25.05, 27.55, 30.0]
p21_f = [0.09, 0.24, 0.44, 0.64, 0.84, 1.04, 1.16, 1.21, 1.26, 1.36, 1.41, 1.39, 1.36, 1.39, 1.39, 1.38, 1.39, 1.39, 1.39, 1.36, 1.39, 1.34, 1.31, 1.29, 1.14, 1.19, 1.24, 1.14, 1.06, 0.94, 0.89, 0.79, 0.74, 0.64, 0.59, 0.56, 0.64, 0.61, 0.59, 0.56, 0.54, 0.48, 0.44, 0.39, 0.34, 0.31, 0.26, 0.24]
p21_Tt = [0.15, 0.45, 0.8, 1.15, 1.55, 1.95, 2.3, 2.8, 3.3, 3.8, 4.55, 5.55, 6.55, 7.55, 8.55, 9.55, 10.3, 10.8, 11.15, 11.8, 12.55, 13.55, 14.8, 15.8, 16.8, 17.55, 18.3, 18.8, 20.05, 21.3, 22.55, 23.8, 25.55, 26.55, 28.05, 29.05, 30.0]
p21_T = [2.12, 2.42, 2.52, 2.48, 2.32, 2.1, 2.22, 2.48, 2.62, 2.68, 2.72, 2.74, 2.72, 2.68, 2.58, 2.42, 2.22, 2.12, 2.18, 2.38, 2.52, 2.62, 2.72, 2.82, 2.88, 2.9, 3.0, 2.92, 2.98, 2.96, 2.98, 3.02, 3.04, 2.98, 2.86, 2.96, 3.04]
p21_Te = [0.03] * 18 + [0.04] * 19
p21_Kt = [0.15, 0.45, 0.8, 1.15, 1.55, 2.05, 2.45, 2.8, 3.15, 3.55, 4.05, 4.55, 5.05, 5.55, 6.05, 6.55, 7.05, 7.55, 8.05, 8.55, 9.05, 9.55, 10.05, 10.55, 11.05, 11.55, 12.05, 12.55, 13.3, 14.05, 14.8, 15.55, 16.3, 17.05, 18.05, 19.05, 20.3, 21.55, 23.05, 24.55, 26.05, 27.55, 28.55, 30.0]
p21_lK = [1.78, 2.08, 2.18, 2.38, 2.78, 3.28, 3.32, 3.08, 2.78, 2.68, 2.62, 2.52, 2.48, 2.42, 2.38, 2.42, 2.48, 2.52, 2.68, 2.88, 2.78, 2.98, 3.12, 3.02, 2.78, 2.58, 2.38, 2.22, 2.12, 2.08, 1.98, 1.82, 1.78, 1.68, 1.62, 1.58, 1.58, 1.52, 1.5, 1.46, 1.42, 1.5, 1.46, 1.38]
p21_lines = [10.85, 16.4]

# half-height (dex) of the normalisation diamonds per panel
norm_err = [0.03, 0.03, 0.1, 0.03, 0.04, 0.03, 0.03, 0.03, 0.03, 0.03, 0.03,
            0.03, 0.03, 0.03, 0.03, 0.03, 0.03, 0.12, 0.03, 0.03, 0.03]

g = globals()
panels = [(g[f'p{i}_ft'], g[f'p{i}_f'], g[f'p{i}_Tt'], g[f'p{i}_T'], g[f'p{i}_Te'],
           g[f'p{i}_Kt'], g[f'p{i}_lK'], g[f'p{i}_lines']) for i in range(1, 22)]

# ---------------- styling / layout ----------------
W, H = 926, 1113
fig = plt.figure(figsize=(W / 100, H / 100), dpi=100)

col_left = [56, 346.5, 637]
ax_w = 206
row_top0, row_pitch, ax_h = 12, 151.8, 145
YLO, YHI = -0.07, 2.09
XLO, XHI = -0.9, 30.2

BLUE = '#0763b3'
RED = '#ff6464'
FS = 11.5

for idx, (ft, f, Tt, T, Te, Kt, lK, lines) in enumerate(panels):
    r, c = divmod(idx, 3)
    top = row_top0 + r * row_pitch
    rect = [col_left[c] / W, 1 - (top + ax_h) / H, ax_w / W, ax_h / H]
    ax = fig.add_axes(rect)
    axT = ax.twinx()
    axK = ax.twinx()

    # flux
    ax.step(ft, f, where='post', color='black', lw=0.8, zorder=3)
    ax.axvline(lines[0], color='black', lw=0.6, ls=(0, (2.5, 2.5)), zorder=2)
    ax.axvline(lines[1], color=RED, lw=0.6, ls=(0, (2.5, 2.5)), zorder=2)
    ax.set_xlim(XLO, XHI)
    ax.set_ylim(YLO, YHI)

    # temperature
    Tt_a, T_a, Te_a = np.array(Tt), np.array(T), np.array(Te)
    axT.fill_between(Tt_a, T_a - Te_a, T_a + Te_a, color=BLUE, lw=0, zorder=3)
    axT.plot(Tt_a, T_a, color=BLUE, lw=0.9, zorder=4)
    axT.set_ylim(2 * YLO, 2 * YHI)

    # normalisation diamonds
    kt = np.array(Kt)
    lk = np.array(lK)
    e = norm_err[idx]
    d = np.diff(kt) / 2.0
    hl = np.concatenate([[d[0]], d])
    hr = np.concatenate([d, [d[-1]]])
    verts = []
    for t0, y0, a, b in zip(kt, lk, hl, hr):
        verts.append([(t0 - a, 10 ** y0), (t0, 10 ** (y0 + e)),
                      (t0 + b, 10 ** y0), (t0, 10 ** (y0 - e))])
    axK.set_yscale('log')
    axK.add_collection(PolyCollection(verts, facecolors='none', edgecolors=RED,
                                      linewidths=0.6, zorder=2))
    axK.set_ylim(10 ** (2 * YLO), 10 ** (2 * YHI))
    axK.set_xlim(XLO, XHI)

    # ticks
    ax.xaxis.set_major_locator(MultipleLocator(5))
    ax.xaxis.set_minor_locator(MultipleLocator(1))
    ax.yaxis.set_major_locator(MultipleLocator(0.5))
    ax.yaxis.set_minor_locator(MultipleLocator(0.1))
    ax.yaxis.set_major_formatter(matplotlib.ticker.FormatStrFormatter('%.1f'))
    ax.tick_params(which='both', direction='in', top=True, bottom=True,
                   left=True, right=False, labelsize=FS, width=0.8, pad=3)
    ax.tick_params(which='major', length=4)
    ax.tick_params(which='minor', length=2)
    ax.tick_params(axis='x', labelbottom=(r == 6))

    axT.yaxis.set_major_locator(MultipleLocator(1))
    axT.yaxis.set_minor_locator(MultipleLocator(0.2))
    axT.tick_params(which='both', direction='in', labelsize=FS, width=0.8, pad=3)
    axT.tick_params(which='major', length=4)
    axT.tick_params(which='minor', length=2)

    axK.spines['right'].set_position(('outward', 20))
    for s in ('left', 'top', 'bottom'):
        axK.spines[s].set_visible(False)
    axK.yaxis.set_major_locator(FixedLocator([1, 10, 100, 1000, 10000]))
    axK.yaxis.set_minor_locator(NullLocator())
    axK.tick_params(which='both', direction='in', labelsize=FS, width=0.8,
                    length=4, pad=3)
    axK.tick_params(axis='x', which='both', bottom=False, top=False,
                    labelbottom=False)

    for a in (ax, axT, axK):
        for s in a.spines.values():
            s.set_linewidth(1.0)

    ax.text(0.875, 0.84, str(idx + 1), transform=ax.transAxes, ha='center',
            va='center', fontsize=16, zorder=10)

fig.text(18 / W, 1 - 540 / H,
         r'Flux, $F$ ($10^{-7}$ erg cm$^{-2}$ s$^{-1}$)',
         rotation=90, ha='center', va='center', fontsize=14)
fig.text(912 / W, 1 - 540 / H,
         r'Temperature, $T_{\rm bb}$ (keV) & Normalization, $K$ (km/10kpc)$^2$',
         rotation=90, ha='center', va='center', fontsize=14)
fig.text(449 / W, 1 - 1100 / H, 'Time (s)', ha='center', va='center', fontsize=14)

fig.savefig('out.png', dpi=100)
